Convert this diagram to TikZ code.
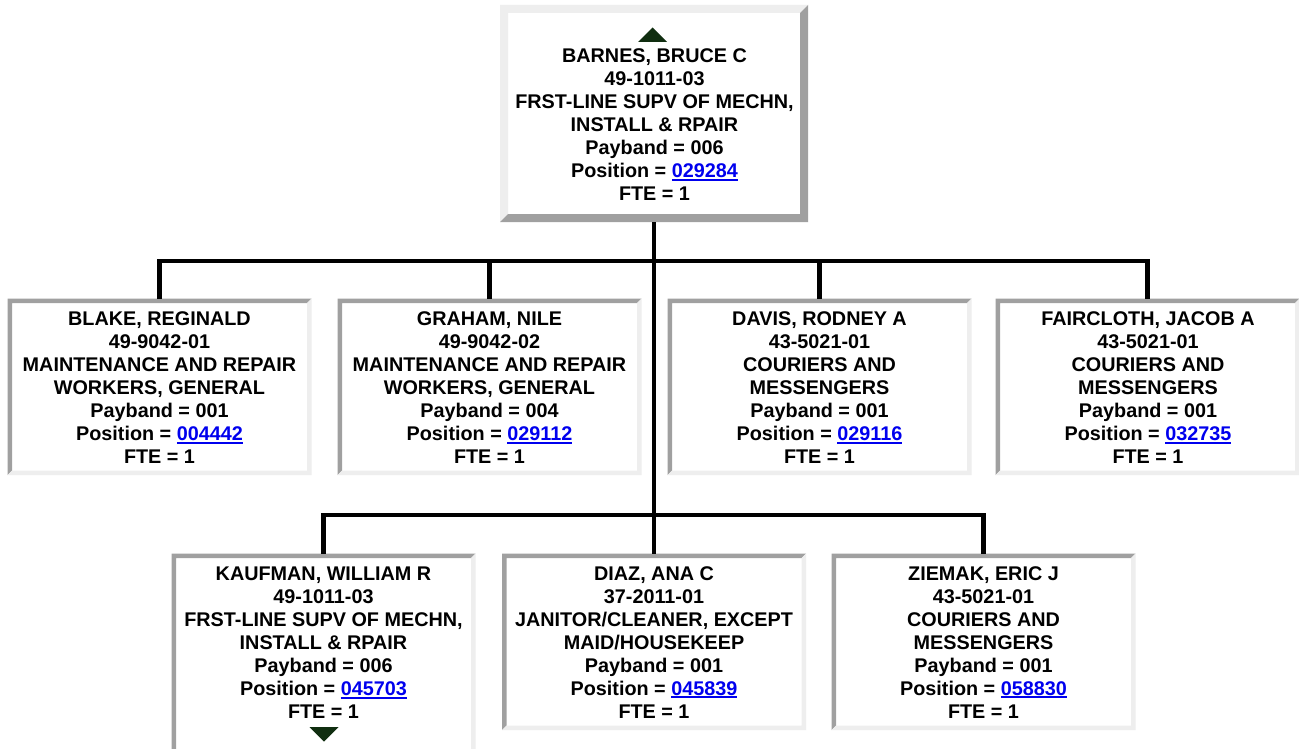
\documentclass[tikz,border=0pt]{standalone}
\usepackage{fontspec}
\setmainfont{Liberation Sans}
\usetikzlibrary{calc}
\definecolor{dkgray}{HTML}{A0A0A0}
\definecolor{ltgray}{HTML}{EEEEEE}
\definecolor{linkblue}{HTML}{0000EE}
\definecolor{icongreen}{HTML}{102E10}
\newcommand\ulink[1]{\textcolor{linkblue}{\setbox0\hbox{#1}\rlap{\rule[-3pt]{\wd0}{1.8pt}}\box0}}
% inset frame: dark top/left, light bottom/right
\newcommand\insetframe[2]{%
  \fill[dkgray] (#1.south west) -- (#1.north west) -- (#1.north east) -- ($(#1.north east)+(-#2,#2)$) -- ($(#1.north west)+(#2,#2)$) -- ($(#1.south west)+(#2,-#2)$) -- cycle;
  \fill[ltgray] (#1.north east) -- (#1.south east) -- (#1.south west) -- ($(#1.south west)+(#2,-#2)$) -- ($(#1.south east)+(-#2,-#2)$) -- ($(#1.north east)+(-#2,#2)$) -- cycle;}
% outset frame: light top/left, dark bottom/right
\newcommand\outsetframe[2]{%
  \fill[ltgray] (#1.south west) -- (#1.north west) -- (#1.north east) -- ($(#1.north east)+(-#2,#2)$) -- ($(#1.north west)+(#2,#2)$) -- ($(#1.south west)+(#2,-#2)$) -- cycle;
  \fill[dkgray] (#1.north east) -- (#1.south east) -- (#1.south west) -- ($(#1.south west)+(#2,-#2)$) -- ($(#1.south east)+(-#2,-#2)$) -- ($(#1.north east)+(-#2,#2)$) -- cycle;}
\begin{document}
\begin{tikzpicture}[x=1pt,y=-1pt,
  conn/.style={line width=4.3pt, line join=miter},
  card/.style={inner sep=0pt, outer sep=0pt, minimum width=304pt, minimum height=176.5pt, fill=white},
  lbl/.style={align=center, font=\fontsize{19.8}{23}\selectfont\bfseries, inner sep=0pt, text=black},
  icon/.style={fill=icongreen}]
\useasboundingbox (0,0) rectangle (1299,749);
\clip (0,0) rectangle (1299,749);
\fill[white] (0,0) rectangle (1299,749);

% boxes
\node[card, minimum width=308pt, minimum height=217pt] (top) at (654,113.5) {};
\node[card] (blake) at (159.5,386.75) {};
\node[card] (graham) at (489.5,386.75) {};
\node[card] (davis) at (819.5,386.75) {};
\node[card] (faircloth) at (1147.5,386.75) {};
\node[card, minimum height=204pt] (kaufman) at (323.5,655.5) {};
\node[card] (diaz) at (654,641.75) {};
\node[card] (ziemak) at (983.5,641.75) {};

\outsetframe{top}{8}
\insetframe{blake}{4.5}
\insetframe{graham}{4.5}
\insetframe{davis}{4.5}
\insetframe{faircloth}{4.5}
\insetframe{kaufman}{4.5}
\insetframe{diaz}{4.5}
\insetframe{ziemak}{4.5}

% connectors
\draw[conn] (top.south) -- (diaz.north);
\draw[conn] (blake.north) -- ++(0,-37.5) -| (faircloth.north);
\draw[conn] (graham.north) -- ++(0,-37.5);
\draw[conn] (davis.north) -- ++(0,-37.5);
\draw[conn] (kaufman.north) -- ++(0,-38.5) -| (ziemak.north);

% icons
\fill[icon] (652.5,27.5) -- (667,42) -- (638,42) -- cycle;
\fill[icon] (309.5,727) -- (338.5,727) -- (324,741.5) -- cycle;

% texts
\node[lbl] (topt) at (654.5,125) {BARNES, BRUCE C\\49-1011-03\\FRST-LINE SUPV OF MECHN,\\INSTALL \& RPAIR\\Payband = 006\\Position = \ulink{029284}\\FTE = 1};
\node[lbl] (blaket) at (159.5,388) {BLAKE, REGINALD\\49-9042-01\\MAINTENANCE AND REPAIR\\WORKERS, GENERAL\\Payband = 001\\Position = \ulink{004442}\\FTE = 1};
\node[lbl] (grahamt) at (489.5,388) {GRAHAM, NILE\\49-9042-02\\MAINTENANCE AND REPAIR\\WORKERS, GENERAL\\Payband = 004\\Position = \ulink{029112}\\FTE = 1};
\node[lbl] (davist) at (819.5,388) {DAVIS, RODNEY A\\43-5021-01\\COURIERS AND\\MESSENGERS\\Payband = 001\\Position = \ulink{029116}\\FTE = 1};
\node[lbl] (fairclotht) at (1148,388) {FAIRCLOTH, JACOB A\\43-5021-01\\COURIERS AND\\MESSENGERS\\Payband = 001\\Position = \ulink{032735}\\FTE = 1};
\node[lbl] (kaufmant) at (323.5,643) {KAUFMAN, WILLIAM R\\49-1011-03\\FRST-LINE SUPV OF MECHN,\\INSTALL \& RPAIR\\Payband = 006\\Position = \ulink{045703}\\FTE = 1};
\node[lbl] (diazt) at (654,642.3) {DIAZ, ANA C\\37-2011-01\\JANITOR/CLEANER, EXCEPT\\MAID/HOUSEKEEP\\Payband = 001\\Position = \ulink{045839}\\FTE = 1};
\node[lbl] (ziemakt) at (983.5,642.3) {ZIEMAK, ERIC J\\43-5021-01\\COURIERS AND\\MESSENGERS\\Payband = 001\\Position = \ulink{058830}\\FTE = 1};
\end{tikzpicture}
\end{document}
